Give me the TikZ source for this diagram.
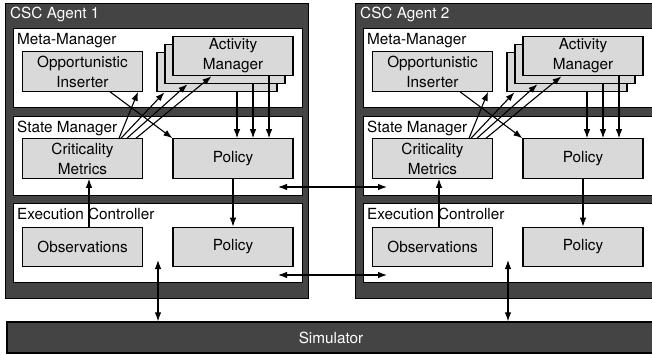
\documentclass[tikz,border=0pt]{standalone}
\usepackage{fontspec}
\setmainfont{TeX Gyre Heros}
\usepackage{tikz}
\usetikzlibrary{arrows.meta, positioning, calc}

\definecolor{agentgray}{HTML}{444444}
\definecolor{blockgray}{HTML}{D9D9D9}

\begin{document}
\begin{tikzpicture}[
    x=1pt, y=-1pt,
    font=\fontsize{15.3}{20}\selectfont,
    agent/.style={draw=black, fill=agentgray, line width=1.3pt, inner sep=0pt, anchor=north west},
    panel/.style={draw=black, fill=white, line width=1.3pt, inner sep=0pt, anchor=north west, minimum width=289pt, minimum height=79pt},
    block/.style={draw=black, fill=blockgray, line width=1.1pt, minimum width=120pt, minimum height=39.5pt, inner sep=0pt, align=center},
    title/.style={anchor=base west, inner sep=0pt},
    link/.style={-{Latex[length=9pt,width=6.5pt]}, line width=1.1pt},
    sync/.style={{Latex[length=9pt,width=6.5pt]}-{Latex[length=9pt,width=6.5pt]}, line width=1.1pt},
]
\useasboundingbox (0,0) rectangle (652,355);
\clip (0,0) rectangle (652,355);

% shared simulator bar
\node[draw=black, fill=agentgray, line width=1.3pt, minimum width=648pt, minimum height=31pt,
      inner sep=0pt, text=white] (sim) at (331,337.5) {Simulator};

\foreach \i/\dx in {1/0, 2/350} {
\begin{scope}[xshift=\dx]
  % agent frame and its three layers
  \node[agent, minimum width=303pt, minimum height=295pt] (agent\i) at (5,3) {};
  \node[title, text=white] (ttl\i) at (10,19) {CSC Agent \i};

  \node[panel] (mm\i) at (13,28) {};
  \node[panel] (sm\i) at (13,116) {};
  \node[panel] (ec\i) at (13,203) {};
  \node[title] (mmlbl\i) at ($(mm\i.north west)+(4,16.5)$) {Meta-Manager};
  \node[title] (smlbl\i) at ($(sm\i.north west)+(4,16.5)$) {State Manager};
  \node[title] (eclbl\i) at ($(ec\i.north west)+(4,16.5)$) {Execution Controller};

  % meta-manager
  \node[block] (opp\i) at (82.5,71.5) {Opportunistic\\Inserter};
  \node[block] (amback\i) at (217,72) {};
  \node[block] (ammid\i) at (225,64) {};
  \node[block] (amtop\i) at (233,56) {Activity\\Manager};

  % state manager
  \node[block] (cm\i) at (82.5,158.5) {Criticality\\Metrics};
  \node[block] (pol\i) at (233,158.5) {Policy};

  % execution controller
  \node[block] (obs\i) at (82.5,247) {Observations};
  \node[block] (exp\i) at (233,247) {Policy};

  \draw[link] ($(opp\i.south)+(27.5,0)$) -- (pol\i.north west);
  \draw[link] ($(cm\i.north east)+(-24,0)$) -- ($(opp\i.south east)+(-5,0)$);
  \draw[link] ($(cm\i.north east)+(-22,0)$) -- ($(amback\i.south west)+(8,0)$);
  \draw[link] ($(cm\i.north east)+(-16,0)$) -- ($(ammid\i.south west)+(23,0)$);
  \draw[link] ($(cm\i.north east)+(-7,0)$) -- ($(amtop\i.south west)+(39,0)$);

  \draw[link] ($(amback\i.south)+(20,0)$) -- ($(pol\i.north)+(4,0)$);
  \draw[link] ($(ammid\i.south)+(28,0)$) -- ($(pol\i.north)+(20,0)$);
  \draw[link] ($(amtop\i.south)+(36,0)$) -- ($(pol\i.north)+(36,0)$);

  \draw[link] (pol\i.south) -- (exp\i.north);
  \draw[link] ($(obs\i.north)+(6.5,0)$) -- ($(cm\i.south)+(6.5,0)$);

  % port to the simulator
  \coordinate (port\i) at (158,260);
  \draw[sync] (port\i) -- (port\i |- sim.north);
\end{scope}
}

% agent to agent exchange
\coordinate (smout) at (278,187);
\coordinate (smin) at (387,187);
\coordinate (ecout) at (278,275);
\coordinate (ecin) at (387,275);
\draw[sync] (smout) -- (smin);
\draw[sync] (ecout) -- (ecin);

\end{tikzpicture}
\end{document}
